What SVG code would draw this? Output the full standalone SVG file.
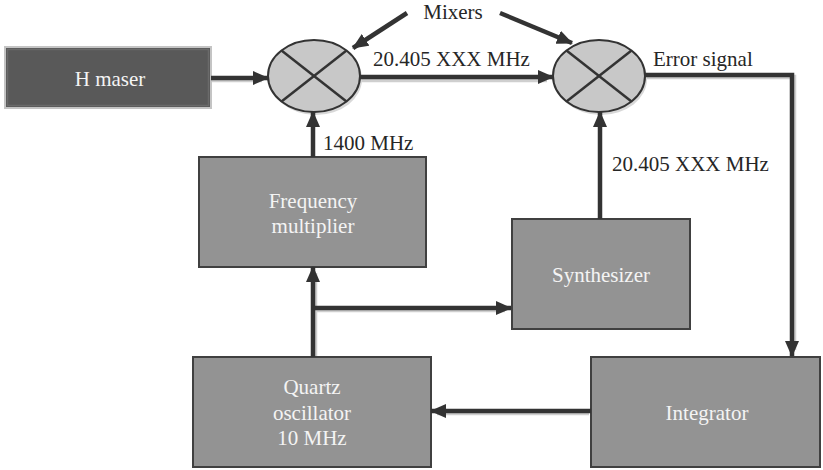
<svg xmlns="http://www.w3.org/2000/svg" width="823" height="470" viewBox="0 0 823 470">
<style>
text{font-size:21px}
.lbl{fill:#262626}
.wt{fill:#f4f4f4;text-anchor:middle}
.box{fill:#939393;stroke:#404040;stroke-width:2}
.mix{fill:#c8c8c8;stroke:#333;stroke-width:2}
.x{stroke:#333;stroke-width:2.5}
.c{fill:none;stroke:#333;stroke-width:4.5}
.sh{fill:none;stroke:#cfcfcf;stroke-width:4.5}
</style>
<defs>
<marker id="ah" markerUnits="userSpaceOnUse" markerWidth="16" markerHeight="14" refX="15" refY="7" orient="auto">
<path d="M0,0 L16,7 L0,14 Z" fill="#333"/>
</marker>
</defs>
<g id="shadows">
<path class="sh" d="M211,80 H262 M360,80 H547 M647,77 H794 V350 M589,413 H437 M315,359 V273 M315,310 H505"/>
<ellipse cx="316" cy="79" rx="46" ry="36" fill="#d8d8d8"/>
<ellipse cx="601" cy="79" rx="46" ry="36" fill="#d8d8d8"/>
</g>
<g id="h-maser">
<rect x="5" y="47" width="206" height="61" fill="#595959" stroke="#c4c4c4" stroke-width="2"/>
<rect x="7.5" y="49.5" width="201" height="56" fill="none" stroke="#6a6a6a" stroke-width="1.5"/>
<text class="wt" x="110" y="86" font-family="'Liberation Serif', 'DejaVu Serif', serif">H maser</text>
</g>
<g id="mixer1">
<ellipse class="mix" cx="314" cy="76" rx="46" ry="36"/>
<line class="x" x1="281.5" y1="50.5" x2="346.5" y2="101.5"/>
<line class="x" x1="346.5" y1="50.5" x2="281.5" y2="101.5"/>
</g>
<g id="mixer2">
<ellipse class="mix" cx="599" cy="76" rx="46" ry="36"/>
<line class="x" x1="566.5" y1="50.5" x2="631.5" y2="101.5"/>
<line class="x" x1="631.5" y1="50.5" x2="566.5" y2="101.5"/>
</g>
<g id="frequency-multiplier">
<rect class="box" x="199" y="157" width="227" height="110"/>
<text class="wt" x="313" y="208" font-family="'Liberation Serif', 'DejaVu Serif', serif">Frequency</text>
<text class="wt" x="313" y="233" font-family="'Liberation Serif', 'DejaVu Serif', serif">multiplier</text>
</g>
<g id="synthesizer">
<rect class="box" x="512" y="219" width="178" height="110"/>
<text class="wt" x="601" y="282" font-family="'Liberation Serif', 'DejaVu Serif', serif">Synthesizer</text>
</g>
<g id="quartz-oscillator">
<rect class="box" x="193" y="357" width="238" height="110"/>
<text class="wt" x="312" y="394" font-family="'Liberation Serif', 'DejaVu Serif', serif">Quartz</text>
<text class="wt" x="312" y="420" font-family="'Liberation Serif', 'DejaVu Serif', serif">oscillator</text>
<text class="wt" x="312" y="445" font-family="'Liberation Serif', 'DejaVu Serif', serif">10 MHz</text>
</g>
<g id="integrator">
<rect class="box" x="591" y="357" width="229" height="110"/>
<text class="wt" x="707" y="420" font-family="'Liberation Serif', 'DejaVu Serif', serif">Integrator</text>
</g>
<g id="connectors">
<line class="c" x1="211" y1="78" x2="268" y2="78" marker-end="url(#ah)"/>
<line class="c" x1="360" y1="77" x2="553" y2="77" marker-end="url(#ah)"/>
<line class="c" x1="407" y1="13" x2="353" y2="48" marker-end="url(#ah)"/>
<line class="c" x1="500" y1="13" x2="572" y2="43" marker-end="url(#ah)"/>
<line class="c" x1="313" y1="157" x2="313" y2="112" marker-end="url(#ah)"/>
<line class="c" x1="600" y1="219" x2="600" y2="112" marker-end="url(#ah)"/>
<polyline class="c" points="645,75 792,75 792,356" marker-end="url(#ah)"/>
<line class="c" x1="591" y1="411" x2="431" y2="411" marker-end="url(#ah)"/>
<line class="c" x1="313" y1="357" x2="313" y2="267" marker-end="url(#ah)"/>
<line class="c" x1="313" y1="308" x2="511" y2="308" marker-end="url(#ah)"/>
</g>
<g id="labels">
<text class="lbl" x="453" y="19" text-anchor="middle" font-family="'Liberation Serif', 'DejaVu Serif', serif">Mixers</text>
<text class="lbl" x="373" y="66" font-family="'Liberation Serif', 'DejaVu Serif', serif">20.405 XXX MHz</text>
<text class="lbl" x="653" y="66" font-family="'Liberation Serif', 'DejaVu Serif', serif">Error signal</text>
<text class="lbl" x="323" y="150" font-family="'Liberation Serif', 'DejaVu Serif', serif">1400 MHz</text>
<text class="lbl" x="612" y="171" font-family="'Liberation Serif', 'DejaVu Serif', serif">20.405 XXX MHz</text>
</g>
</svg>
